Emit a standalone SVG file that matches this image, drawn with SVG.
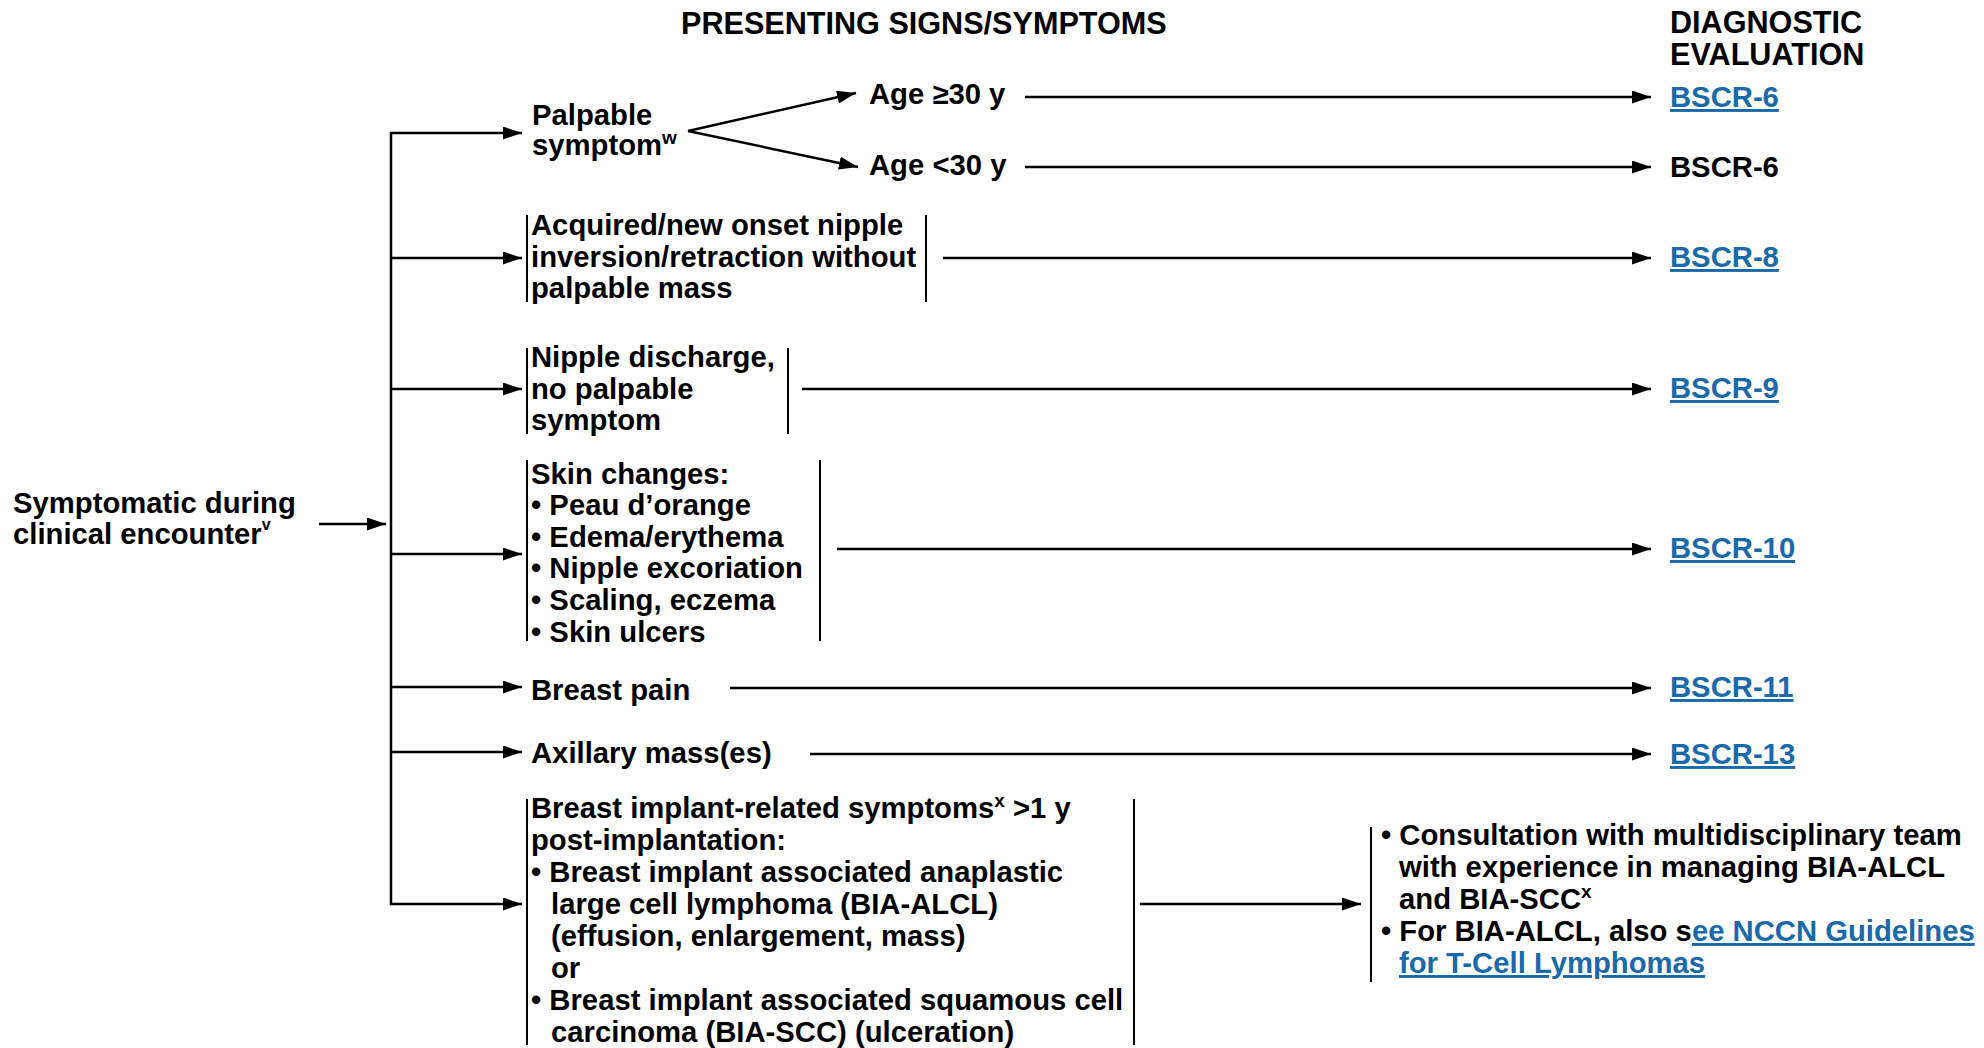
<svg xmlns="http://www.w3.org/2000/svg" width="1984" height="1048" viewBox="0 0 1984 1048">
<style>
text{font-family:"Liberation Sans",Arial,sans-serif;font-weight:bold;font-size:29.25px;fill:#000}
.hdr{font-size:30.6px}
.sup{font-size:19px}
.supv{font-size:16px}
.link{fill:#1a69a8;text-decoration:underline}
.ln{stroke:#000;stroke-width:2.5;fill:none}
.arr{stroke:#000;stroke-width:2.5;fill:none;marker-end:url(#ah)}
.bar{stroke:#000;stroke-width:2;fill:none}
</style>
<defs>
<marker id="ah" markerUnits="userSpaceOnUse" markerWidth="19" markerHeight="13" refX="19" refY="6.5" orient="auto">
<path d="M0,0 L19,6.5 L0,13 z" fill="#000"/>
</marker>
</defs>
<rect width="1984" height="1048" fill="#fff"/>
<g id="headers">
<text class="hdr" x="681" y="34">PRESENTING SIGNS/SYMPTOMS</text>
<text class="hdr" x="1670" y="33">DIAGNOSTIC</text>
<text class="hdr" x="1670" y="65">EVALUATION</text>
</g>
<g id="connectors">
<line class="arr" x1="319" y1="524" x2="386" y2="524"/>
<line class="ln" x1="391" y1="132" x2="391" y2="905"/>
<line class="arr" x1="390" y1="133" x2="522" y2="133"/>
<line class="arr" x1="390" y1="258" x2="522" y2="258"/>
<line class="arr" x1="390" y1="389" x2="522" y2="389"/>
<line class="arr" x1="390" y1="554" x2="522" y2="554"/>
<line class="arr" x1="390" y1="687" x2="522" y2="687"/>
<line class="arr" x1="390" y1="752" x2="522" y2="752"/>
<line class="arr" x1="390" y1="904" x2="522" y2="904"/>
<line class="arr" x1="688" y1="131" x2="856" y2="93"/>
<line class="arr" x1="688" y1="131" x2="858" y2="167"/>
<line class="arr" x1="1025" y1="97" x2="1651" y2="97"/>
<line class="arr" x1="1025" y1="167" x2="1651" y2="167"/>
<line class="arr" x1="943" y1="258" x2="1651" y2="258"/>
<line class="arr" x1="802" y1="389" x2="1651" y2="389"/>
<line class="arr" x1="837" y1="549" x2="1651" y2="549"/>
<line class="arr" x1="730" y1="688" x2="1651" y2="688"/>
<line class="arr" x1="810" y1="754" x2="1651" y2="754"/>
<line class="arr" x1="1140" y1="904" x2="1361" y2="904"/>
</g>
<g id="n-start">
<text x="13" y="513">Symptomatic during</text>
<text x="13" y="544">clinical encounter<tspan class="supv" dy="-14">v</tspan></text>
</g>
<g id="n-palpable">
<text x="532" y="125">Palpable</text>
<text x="532" y="155">symptom<tspan class="sup" dy="-11">w</tspan></text>
</g>
<g id="n-age30plus"><text x="869" y="104">Age ≥30 y</text></g>
<g id="n-age30minus"><text x="869" y="175">Age &lt;30 y</text></g>
<g id="n-nipple-inversion">
<line class="bar" x1="527" y1="215" x2="527" y2="302"/>
<line class="bar" x1="926" y1="215" x2="926" y2="302"/>
<text x="531" y="235">Acquired/new onset nipple</text>
<text x="531" y="267">inversion/retraction without</text>
<text x="531" y="298">palpable mass</text>
</g>
<g id="n-nipple-discharge">
<line class="bar" x1="527" y1="348" x2="527" y2="434"/>
<line class="bar" x1="788" y1="348" x2="788" y2="434"/>
<text x="531" y="367">Nipple discharge,</text>
<text x="531" y="399">no palpable</text>
<text x="531" y="430">symptom</text>
</g>
<g id="n-skin">
<line class="bar" x1="527" y1="460" x2="527" y2="641"/>
<line class="bar" x1="820" y1="460" x2="820" y2="641"/>
<text x="531" y="484">Skin changes:</text>
<text x="531" y="515">• Peau d’orange</text>
<text x="531" y="547">• Edema/erythema</text>
<text x="531" y="578">• Nipple excoriation</text>
<text x="531" y="610">• Scaling, eczema</text>
<text x="531" y="642">• Skin ulcers</text>
</g>
<g id="n-pain"><text x="531" y="700">Breast pain</text></g>
<g id="n-axillary"><text x="531" y="763">Axillary mass(es)</text></g>
<g id="n-implant">
<line class="bar" x1="527" y1="799" x2="527" y2="1045"/>
<line class="bar" x1="1134" y1="799" x2="1134" y2="1045"/>
<text x="531" y="818">Breast implant-related symptoms<tspan class="sup" dy="-11">x</tspan><tspan dy="11"> &gt;1 y</tspan></text>
<text x="531" y="850">post-implantation:</text>
<text x="531" y="882">• Breast implant associated anaplastic</text>
<text x="551" y="914">large cell lymphoma (BIA-ALCL)</text>
<text x="551" y="946">(effusion, enlargement, mass)</text>
<text x="551" y="978">or</text>
<text x="531" y="1010">• Breast implant associated squamous cell</text>
<text x="551" y="1042">carcinoma (BIA-SCC) (ulceration)</text>
</g>
<g id="n-consult">
<line class="bar" x1="1371" y1="827" x2="1371" y2="982"/>
<text x="1381" y="845">• Consultation with multidisciplinary team</text>
<text x="1399" y="877">with experience in managing BIA-ALCL</text>
<text x="1399" y="909">and BIA-SCC<tspan class="sup" dy="-11">x</tspan></text>
<text x="1381" y="941">• For BIA-ALCL, also s<tspan class="link">ee NCCN Guidelines</tspan></text>
<text x="1399" y="973" class="link">for T-Cell Lymphomas</text>
</g>
<g id="n-bscr6a"><text class="link" x="1670" y="107">BSCR-6</text></g>
<g id="n-bscr6b"><text x="1670" y="177">BSCR-6</text></g>
<g id="n-bscr8"><text class="link" x="1670" y="267">BSCR-8</text></g>
<g id="n-bscr9"><text class="link" x="1670" y="398">BSCR-9</text></g>
<g id="n-bscr10"><text class="link" x="1670" y="558">BSCR-10</text></g>
<g id="n-bscr11"><text class="link" x="1670" y="697">BSCR-11</text></g>
<g id="n-bscr13"><text class="link" x="1670" y="764">BSCR-13</text></g>
</svg>
